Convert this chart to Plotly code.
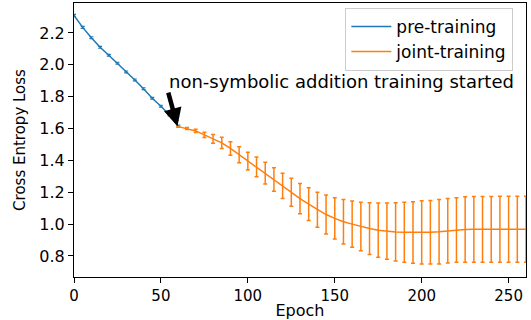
import plotly.graph_objects as go

# ---- data ----
pre_epochs = [0, 5, 10, 15, 20, 25, 30, 35, 40, 45, 50, 55, 60]
pre_loss = [2.31, 2.235, 2.17, 2.11, 2.06, 2.01, 1.955, 1.905, 1.85, 1.79, 1.74, 1.685, 1.615]
pre_err = [0.006] * len(pre_epochs)

joint_epochs = list(range(60, 261, 5))
joint_loss = [1.612, 1.60, 1.585, 1.56, 1.535, 1.51, 1.475, 1.435, 1.395, 1.36,
              1.32, 1.28, 1.24, 1.20, 1.16, 1.125, 1.09, 1.06, 1.036, 1.015,
              1.0, 0.985, 0.972, 0.962, 0.956, 0.951, 0.949, 0.948, 0.948, 0.949,
              0.952, 0.958, 0.963, 0.966, 0.967, 0.967, 0.967, 0.968, 0.968, 0.968,
              0.968]
joint_err = [0.003, 0.006, 0.01, 0.017, 0.028, 0.035, 0.042, 0.05, 0.056, 0.062,
             0.068, 0.074, 0.079, 0.088, 0.095, 0.103, 0.11, 0.122, 0.13, 0.14,
             0.145, 0.152, 0.162, 0.17, 0.176, 0.183, 0.188, 0.193, 0.198, 0.2,
             0.203, 0.202, 0.202, 0.205, 0.207, 0.207, 0.207, 0.207, 0.207, 0.207,
             0.207]

x_ticks = [0, 50, 100, 150, 200, 250]
y_ticks = [0.8, 1.0, 1.2, 1.4, 1.6, 1.8, 2.0, 2.2]

annotation_text = "non-symbolic addition training started"

BLUE = "#1f77b4"
ORANGE = "#ff7f0e"
FONT = "DejaVu Sans"

fig = go.Figure()
fig.add_trace(go.Scatter(
    x=pre_epochs, y=pre_loss, mode="lines", name="pre-training",
    line=dict(color=BLUE, width=1.5),
    error_y=dict(type="data", array=pre_err, visible=True, color=BLUE,
                 thickness=1.2, width=2),
))
fig.add_trace(go.Scatter(
    x=joint_epochs, y=joint_loss, mode="lines", name="joint-training",
    line=dict(color=ORANGE, width=1.5),
    error_y=dict(type="data", array=joint_err, visible=True, color=ORANGE,
                 thickness=1.5, width=2),
))

fig.add_annotation(x=59.5, y=1.615, ax=54, ay=1.835, xref="x", yref="y",
                   axref="x", ayref="y", text="", showarrow=True,
                   arrowhead=2, arrowsize=0.8, arrowwidth=4.5,
                   arrowcolor="black", standoff=0)
fig.add_annotation(x=53.4, y=1.895, xref="x", yref="y", text=annotation_text,
                   showarrow=False, xanchor="left", yanchor="middle",
                   font=dict(family=FONT, size=18, color="black"))

axis_common = dict(showgrid=False, zeroline=False, showline=True, mirror=True,
                   linecolor="black", linewidth=1, ticks="outside", ticklen=5,
                   tickwidth=1, tickcolor="black", automargin=False)

fig.update_xaxes(range=[0, 260], tickvals=x_ticks,
                 tickfont=dict(family=FONT, size=15, color="black"),
                 title=dict(text="Epoch", font=dict(family=FONT, size=16, color="black"),
                            standoff=0),
                 **axis_common)
fig.update_yaxes(range=[0.668, 2.388], tickvals=y_ticks, tickformat=".1f",
                 tickfont=dict(family=FONT, size=16, color="black"),
                 title=dict(text="Cross Entropy Loss",
                            font=dict(family=FONT, size=15, color="black"),
                            standoff=10),
                 **axis_common)

fig.update_layout(
    width=531, height=320,
    margin=dict(l=74, r=5, t=3, b=43),
    paper_bgcolor="white", plot_bgcolor="white",
    font=dict(family=FONT, size=16, color="black"),
    legend=dict(x=0.972, y=0.982, xanchor="right", yanchor="top",
                bgcolor="white", bordercolor="#cccccc", borderwidth=1,
                font=dict(family=FONT, size=17, color="black"),
                itemwidth=40, tracegroupgap=0),
    showlegend=True,
)

fig.write_html("out.html", config={"displayModeBar": False},
               post_script="document.body.style.margin='0';document.body.style.overflow='hidden';")
